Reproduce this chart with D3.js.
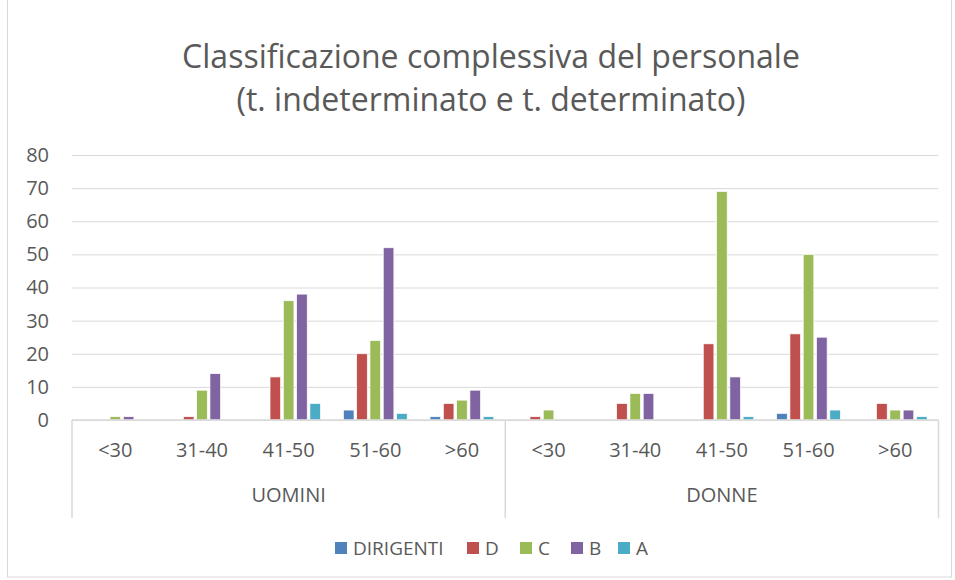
<!DOCTYPE html>
<html>
<head>
<meta charset="utf-8">
<script src="https://cdn.jsdelivr.net/npm/d3@7"></script>
<style>
  body { margin: 0; background: #fff; }
  text { font-family: "Open Sans", "Liberation Sans", sans-serif; fill: #595959; }
</style>
</head>
<body>
<div id="graph"></div>
<script>
var groups = ["UOMINI", "DONNE"];
var ages = ["<30", "31-40", "41-50", "51-60", ">60"];
var series = ["DIRIGENTI", "D", "C", "B", "A"];
var colors = ["#4F81BD", "#C0504D", "#9BBB59", "#8064A2", "#4BACC6"];
var yTicks = [0, 10, 20, 30, 40, 50, 60, 70, 80];

// values per series, order: UOMINI ages then DONNE ages
var dirigenti = [0, 0, 0, 3, 1,   0, 0, 0, 2, 0];
var seriesD   = [0, 1, 13, 20, 5,  1, 5, 23, 26, 5];
var seriesC   = [1, 9, 36, 24, 6,  3, 8, 69, 50, 3];
var seriesB   = [1, 14, 38, 52, 9, 0, 8, 13, 25, 3];
var seriesA   = [0, 0, 5, 2, 1,    0, 0, 1, 3, 1];
var values = [dirigenti, seriesD, seriesC, seriesB, seriesA];

var width = 955, height = 580;
var margin = {top: 155, right: 16, bottom: 160, left: 72};

var svg = d3.select('#graph').append('svg')
    .attr('width', width)
    .attr('height', height);

// chart frame
svg.append('rect')
    .attr('x', 7.5).attr('y', -1)
    .attr('width', 944).attr('height', 578)
    .attr('fill', 'none').attr('stroke', '#d9d9d9');

var cats = [];
groups.forEach(function(g) { ages.forEach(function(a) { cats.push(g + '|' + a); }); });

var plotRight = width - margin.right - 0.5;

var x0 = d3.scaleBand()
    .domain(cats)
    .range([margin.left, plotRight])
    .paddingInner(0.233)
    .paddingOuter(0.1165);

var x1 = d3.scaleBand()
    .domain(series)
    .range([0, x0.bandwidth()])
    .paddingInner(0.2)
    .paddingOuter(0.1);

var y = d3.scaleLinear()
    .domain([0, 80])
    .range([height - margin.bottom, margin.top]);

// gridlines + y labels
var yAxis = d3.axisLeft(y)
    .tickValues(yTicks)
    .tickSize(-(plotRight - margin.left))
    .tickPadding(23);

svg.append('g')
    .attr('transform', 'translate(' + margin.left + ',0)')
    .call(customYAxis);

function customYAxis(g) {
  g.call(yAxis);
  g.select('.domain').remove();
  g.selectAll('.tick line').attr('stroke', '#d9d9d9').attr('stroke-width', 1);
  g.selectAll('.tick text')
    .style('font-size', '20px')
    .attr('fill', '#595959');
}

// bars
var barData = [];
cats.forEach(function(c, i) {
  series.forEach(function(s, j) {
    barData.push({cat: c, s: s, v: values[j][i], color: colors[j]});
  });
});

svg.append('g').selectAll('rect')
    .data(barData)
    .enter().append('rect')
    .attr('x', function(d) { return x0(d.cat) + x1(d.s); })
    .attr('y', function(d) { return y(d.v); })
    .attr('width', x1.bandwidth())
    .attr('height', function(d) { return y(0) - y(d.v); })
    .attr('fill', function(d) { return d.color; })
    .attr('stroke', '#fff')
    .attr('stroke-width', 0.7);

// category axis
var y0 = y(0);
var axisG = svg.append('g');
axisG.append('line')
    .attr('x1', margin.left).attr('x2', plotRight)
    .attr('y1', y0).attr('y2', y0)
    .attr('stroke', '#d9d9d9').attr('stroke-width', 1.5);

var groupScale = d3.scaleBand().domain(groups).range([margin.left, plotRight]);
var boundaries = [margin.left, groupScale('DONNE'), plotRight];
boundaries.forEach(function(bx) {
  axisG.append('line')
    .attr('x1', bx).attr('x2', bx)
    .attr('y1', y0).attr('y2', 518)
    .attr('stroke', '#d9d9d9').attr('stroke-width', 1.5);
});

axisG.selectAll('.age')
    .data(cats)
    .enter().append('text')
    .attr('x', function(d) { return x0(d) + x0.bandwidth() / 2; })
    .attr('y', 457)
    .attr('text-anchor', 'middle')
    .style('font-size', '20px')
    .text(function(d) { return d.split('|')[1]; });

axisG.selectAll('.grp')
    .data(groups)
    .enter().append('text')
    .attr('x', function(d) { return groupScale(d) + groupScale.bandwidth() / 2; })
    .attr('y', 502)
    .attr('text-anchor', 'middle')
    .style('font-size', '20px')
    .text(function(d) { return d; });

// title
svg.append('text')
    .attr('x', 491).attr('y', 68)
    .attr('text-anchor', 'middle')
    .style('font-size', '32px')
    .text('Classificazione complessiva del personale');
svg.append('text')
    .attr('x', 491).attr('y', 111)
    .attr('text-anchor', 'middle')
    .style('font-size', '32px')
    .text('(t. indeterminato e t. determinato)');

// legend
var legendX = [335, 467, 520, 571, 618];
var legend = svg.append('g');
series.forEach(function(s, i) {
  legend.append('rect')
    .attr('x', legendX[i]).attr('y', 542)
    .attr('width', 12).attr('height', 12)
    .attr('fill', colors[i]);
  legend.append('text')
    .attr('x', legendX[i] + 18).attr('y', 555)
    .style('font-size', '19px')
    .text(s);
});
</script>
</body>
</html>
